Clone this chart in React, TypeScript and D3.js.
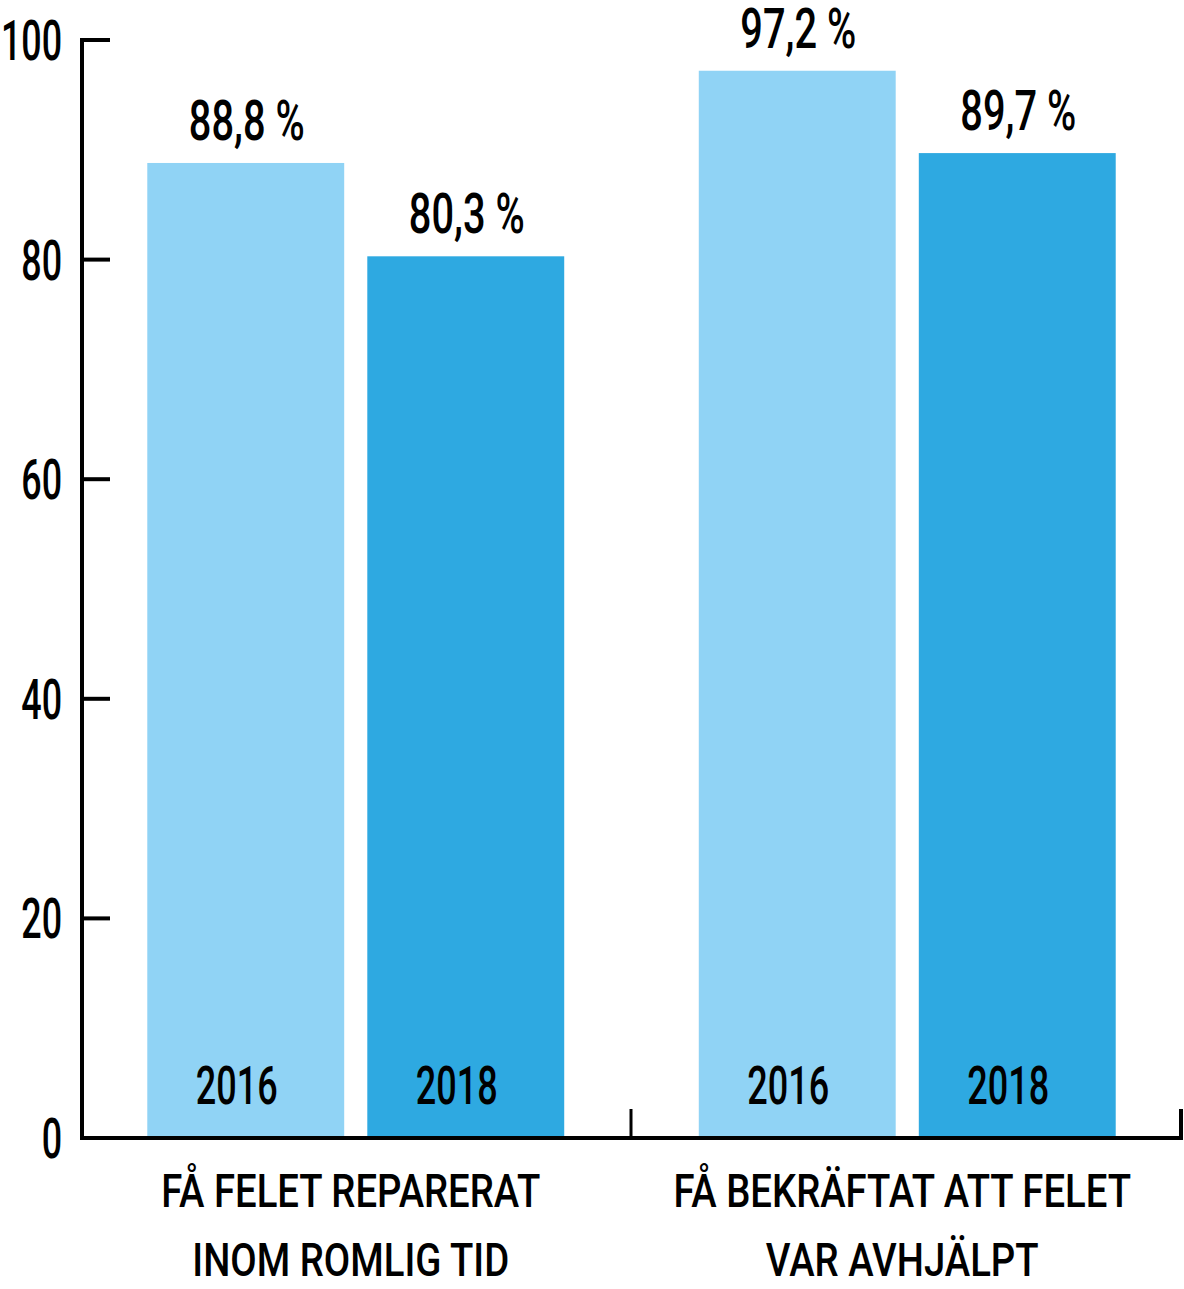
import React from "react";
import * as d3 from "d3";

const categories = ["FÅ FELET REPARERAT|INOM ROMLIG TID", "FÅ BEKRÄFTAT ATT FELET|VAR AVHJÄLPT"];
const years = ["2016", "2018"];
const values2016 = [88.8, 97.2];
const values2018 = [80.3, 89.7];
const valueLabels2016 = ["88,8 %", "97,2 %"];
const valueLabels2018 = ["80,3 %", "89,7 %"];
const yTicks = [0, 20, 40, 60, 80, 100];

const W = 1184;
const H = 1289;
const FONT = "Roboto, 'Noto Sans', sans-serif";
const colors: Record<string, string> = { "2016": "#90d3f5", "2018": "#2ea9e1" };

function SText({ x, y, sx, size, anchor, weight, children }: any) {
  return (
    <text
      transform={`translate(${x},${y}) scale(${sx},1)`}
      fontSize={size}
      fontFamily={FONT}
      fontWeight={weight || 500}
      textAnchor={anchor}
      fill="#000"
    >
      {children}
    </text>
  );
}

export default function App() {
  const x0 = d3.scaleBand<string>().domain(categories).range([80, 1183]).paddingInner(0.244).paddingOuter(0.122);
  const x1 = d3.scaleBand<string>().domain(years).range([0, x0.bandwidth()]).paddingInner(0.105);
  const y = d3.scaleLinear().domain([0, 100]).range([1138, 40]);

  const series: Record<string, number[]> = { "2016": values2016, "2018": values2018 };
  const labels: Record<string, string[]> = { "2016": valueLabels2016, "2018": valueLabels2018 };

  return (
    <svg width={W} height={H} style={{ position: "absolute", left: 0, top: 0, background: "#fff" }}>
      <rect x={0} y={0} width={W} height={H} fill="#fff" />
      {categories.map((c, ci) => (
        <g key={c}>
          {years.map((yr) => {
            const bx = (x0(c) as number) + (x1(yr) as number);
            const v = series[yr][ci];
            const cx = bx + x1.bandwidth() / 2;
            return (
              <g key={yr}>
                <rect x={bx} y={y(v)} width={x1.bandwidth()} height={y(0) - y(v)} fill={colors[yr]} />
                <SText x={cx + 1} y={y(v) - 23} sx={0.71} size={56} anchor="middle">
                  {labels[yr][ci]}
                </SText>
                <SText x={cx - 9} y={1104} sx={0.68} size={53} anchor="middle">
                  {yr}
                </SText>
              </g>
            );
          })}
          {c.split("|").map((line, li) => (
            <SText
              key={li}
              x={(x0(c) as number) + x0.bandwidth() / 2 - 5}
              y={1207 + li * 69}
              sx={0.815}
              size={47}
              anchor="middle"
            >
              {line}
            </SText>
          ))}
        </g>
      ))}
      {/* y axis */}
      <line x1={82} x2={82} y1={38} y2={1140} stroke="#000" strokeWidth={4} />
      {yTicks.map((t) => (
        <g key={t}>
          {t > 0 && <line x1={80} x2={110} y1={y(t)} y2={y(t)} stroke="#000" strokeWidth={4} />}
          <SText x={62} y={y(t) + 20} sx={0.64} size={56} anchor="end">
            {t}
          </SText>
        </g>
      ))}
      {/* x axis */}
      <line x1={80} x2={1183} y1={1138} y2={1138} stroke="#000" strokeWidth={4} />
      <line x1={631} x2={631} y1={1109} y2={1138} stroke="#000" strokeWidth={3} />
      <line x1={1181} x2={1181} y1={1109} y2={1140} stroke="#000" strokeWidth={4} />
    </svg>
  );
}
